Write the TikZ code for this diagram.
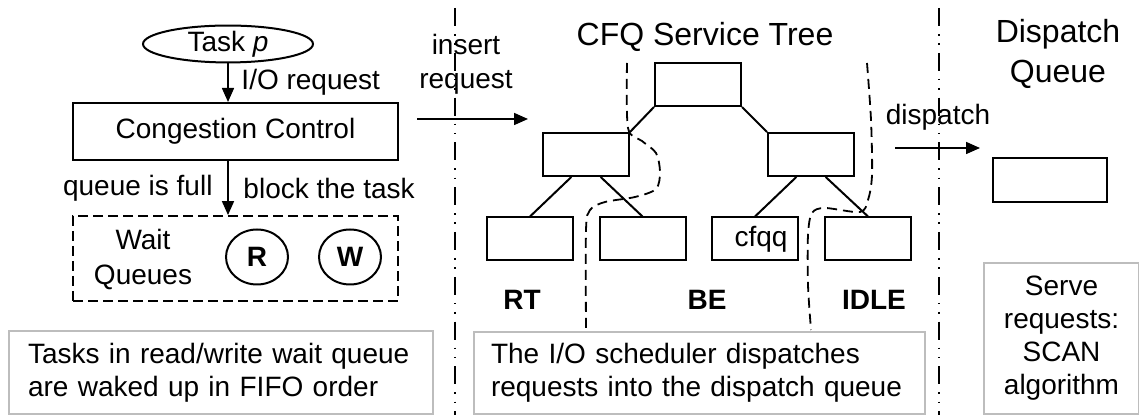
\documentclass[tikz,border=0pt]{standalone}
\usepackage{fontspec}
\setmainfont{Liberation Sans}
\usetikzlibrary{positioning,arrows.meta,calc,shapes.geometric}
\newcommand{\bodyfont}{\fontsize{14}{16.5}\selectfont}
\newcommand{\titlefont}{\fontsize{16}{20}\selectfont}
\definecolor{notegray}{HTML}{BDBDBD}

\begin{document}
\begin{tikzpicture}[x=0.5pt,y=-0.5pt,
  box/.style={draw,line width=1pt,minimum width=43pt,minimum height=21.5pt,inner sep=0pt,font=\bodyfont},
  note/.style={draw=notegray,line width=1pt,font=\bodyfont,anchor=north west},
  sep/.style={line width=0.7pt,dash pattern=on 9pt off 4pt on 0.8pt off 3.8pt on 0.8pt off 4pt},
  split/.style={line width=0.9pt,dash pattern=on 5pt off 3pt},
  arr/.style={line width=0.8pt,-{Triangle[length=7pt,width=6pt]}},
  edge/.style={line width=1pt}]
\useasboundingbox (0,0) rectangle (1139,415);
% column separators
\draw[sep] (455,8) -- (455,415);
\draw[sep] (939,8) -- (939,415);
% left column: task -> congestion control -> wait queues
\node[draw,ellipse,line width=1pt,minimum width=85pt,minimum height=16pt,inner sep=0pt,font=\bodyfont] (task) at (228,44) {Task \textit{p}};
\node[draw,line width=1pt,minimum width=162.5pt,minimum height=28.5pt,font=\bodyfont] (cc) at (235.5,131.5) {Congestion Control};
\node[draw,line width=0.9pt,dash pattern=on 5pt off 2.5pt,minimum width=162.5pt,minimum height=42.5pt] (wait) at (235.5,258.5) {};
\draw[arr] (task.south) -- (task.south |- cc.north) node[midway,right=3pt,font=\bodyfont] {I/O request};
\draw[arr] (cc.south -| task.south) -- (wait.north -| task.south)
  node[midway,left=4pt,font=\bodyfont] {queue is full}
  node[midway,right=4pt,font=\bodyfont] {block the task};
\node[align=center,font=\fontsize{14}{17.5}\selectfont] (wq) at (143,260) {Wait\\Queues};
\node[draw,ellipse,line width=1pt,minimum width=31pt,minimum height=27.5pt,inner sep=0pt,font=\bodyfont\bfseries] (rq) at (257,257) {R};
\node[draw,ellipse,line width=1pt,minimum width=31pt,minimum height=27.5pt,inner sep=0pt,font=\bodyfont\bfseries] (wq2) at (350,257) {W};
\node[note,minimum height=41.5pt,text width=193pt,inner xsep=9.5pt,align=left] (noteL) at (8,330) {Tasks in read/write wait queue\\are waked up in FIFO order};
% insert into the service tree
\coordinate (insA) at (417,119);
\coordinate (insB) at (528,119);
\draw[arr] (insA) -- (insB);
\node[align=center,font=\fontsize{14}{17}\selectfont] (ins) at (466,64) {insert\\request};
% middle column: CFQ service tree
\node[font=\titlefont] (tree) at (705,37) {CFQ Service Tree};
\node[box] (root) at (698,84.5) {};
\node[box] (midL) at (586,154.5) {};
\node[box] (midR) at (811,154.5) {};
\node[box] (rt) at (530,239) {};
\node[box] (be) at (642.5,239) {};
\node[box] (cfqq) at (755,239) {\hspace*{6pt}\raisebox{3pt}{cfqq}};
\node[box] (idle) at (868,239) {};
\draw[edge] (root.south west) -- (midL.north east);
\draw[edge] (root.south east) -- (midR.north west);
\draw[edge] ($(midL.south west)!1/3!(midL.south east)$) -- (rt.north);
\draw[edge] ($(midL.south west)!2/3!(midL.south east)$) -- (be.north);
\draw[edge] ($(midR.south west)!1/3!(midR.south east)$) -- (cfqq.north);
\draw[edge] ($(midR.south west)!2/3!(midR.south east)$) -- (idle.north);
% class borders
\draw[split] plot[smooth] coordinates {(627,63) (628,128) (642,141) (656,153) (660,172) (656,189) (635,197) (605,202) (590,210) (586,230) (586,330)};
\draw[split] plot[smooth] coordinates {(867,63) (871,120) (872,175) (868,200) (860,212) (825,208) (812,213) (808,235) (808,285) (811,330)};
\node[font=\bodyfont\bfseries] (lrt) at (522,300) {RT};
\node[font=\bodyfont\bfseries] (lbe) at (707,300) {BE};
\node[font=\bodyfont\bfseries] (lidle) at (874,300) {IDLE};
\node[note,minimum height=41pt,text width=208.5pt,inner xsep=8.5pt,align=left] (noteM) at (473,331) {The I/O scheduler dispatches\\requests into the dispatch queue};
% dispatch to the right column
\coordinate (dspA) at (895,148);
\coordinate (dspB) at (980,148);
\draw[arr] (dspA) -- (dspB);
\node[font=\bodyfont] (dsp) at (938,117) {dispatch};
\node[align=center,font=\titlefont] (dqt) at (1058,54) {Dispatch\\Queue};
\node[box,minimum width=57pt,minimum height=22pt] (dq) at (1050,180) {};
\node[note,minimum height=75.5pt,text width=70pt,inner xsep=3.75pt,align=center] (noteR) at (983,262) {Serve\\requests:\\SCAN\\algorithm};
\end{tikzpicture}
\end{document}
